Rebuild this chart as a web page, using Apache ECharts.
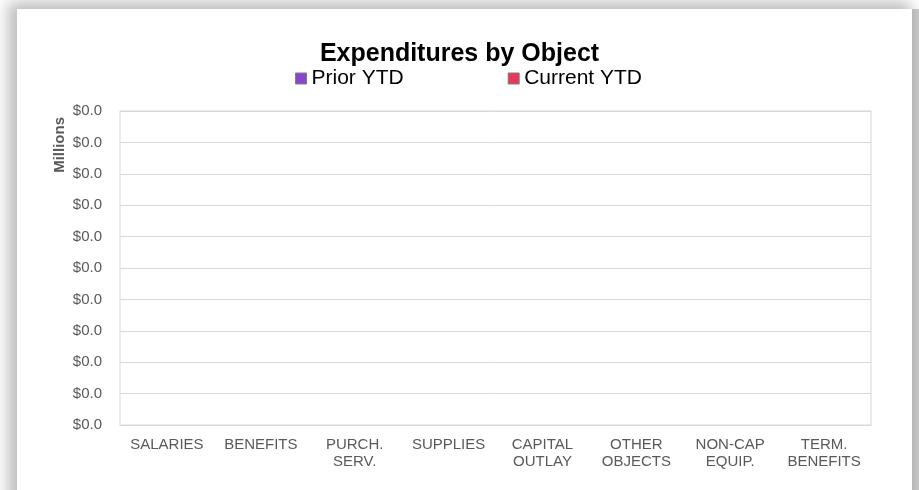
<!DOCTYPE html>
<html>
<head>
<meta charset="utf-8">
<title>Expenditures by Object</title>
<script src="https://cdn.jsdelivr.net/npm/echarts@6/dist/echarts.min.js"></script>
<style>
  html, body { margin: 0; padding: 0; background: #ffffff; }
  #wrap { position: relative; width: 919px; height: 490px; overflow: hidden; background: #ffffff; }
  /* the card that holds the chart, with its drop shadow */
  #card {
    position: absolute; left: 17px; top: 9px; width: 895px; height: 520px;
    background: #ffffff;
    box-shadow: -5px -3px 14px 4px rgba(0,0,0,0.26), 7px 0 0 0 #cdcdcd;
  }
  #chart { position: absolute; left: 0; top: 0; width: 919px; height: 490px; }
</style>
</head>
<body>
<div id="wrap">
  <div id="card"></div>
  <div id="chart"></div>
</div>
<script>
// Expenditure categories (line breaks as printed under the axis)
const categories = [
  'SALARIES', 'BENEFITS', 'PURCH.\nSERV.', 'SUPPLIES',
  'CAPITAL\nOUTLAY', 'OTHER\nOBJECTS', 'NON-CAP\nEQUIP.', 'TERM.\nBENEFITS'
];
// Year-to-date spending, in dollars
const priorYTD   = [0, 0, 0, 0, 0, 0, 0, 0];
const currentYTD = [0, 0, 0, 0, 0, 0, 0, 0];
// Value axis range (dollars); labels are shown in millions
const axisMin = 0;
const axisMax = 1;
const axisStep = 0.1;

const labelColor = '#595959';
const gridColor = '#d9d9d9';
const fontFamily = '"Liberation Sans", Arial, sans-serif';

const chart = echarts.init(document.getElementById('chart'), null, { renderer: 'canvas' });

chart.setOption({
  backgroundColor: 'transparent',
  animation: false,
  textStyle: { fontFamily: fontFamily },
  title: {
    text: 'Expenditures by Object',
    left: 'center',
    top: 37,
    textStyle: { fontSize: 25, fontWeight: 'bold', color: '#000000', fontFamily: fontFamily }
  },
  legend: {
    data: ['Prior YTD', 'Current YTD'],
    left: 295,
    top: 68,
    padding: 0,
    itemWidth: 11,
    itemHeight: 11,
    itemGap: 104,
    icon: 'rect',
    itemStyle: { borderColor: '#7f7f7f', borderWidth: 1 },
    textStyle: { fontSize: 21, color: '#000000', fontFamily: fontFamily }
  },
  grid: {
    left: 120,
    right: 48,
    top: 111,
    bottom: 65,
    show: true,
    borderColor: gridColor,
    borderWidth: 1,
    backgroundColor: '#ffffff',
    containLabel: false
  },
  xAxis: {
    type: 'category',
    data: categories,
    boundaryGap: true,
    axisLine: { show: true, lineStyle: { color: gridColor } },
    axisTick: { show: false },
    axisLabel: {
      color: labelColor,
      fontSize: 15,
      lineHeight: 17,
      margin: 11,
      interval: 0,
      fontFamily: fontFamily
    }
  },
  yAxis: {
    type: 'value',
    min: axisMin,
    max: axisMax,
    interval: axisStep,
    axisLine: { show: false },
    axisTick: { show: false },
    splitLine: { show: true, lineStyle: { color: gridColor, width: 1 } },
    axisLabel: {
      color: labelColor,
      fontSize: 15,
      margin: 18,
      fontFamily: fontFamily,
      formatter: function (v) { return '$' + (v / 1e6).toFixed(1); }
    }
  },
  graphic: [{
    type: 'text',
    left: 52,
    top: 117,
    rotation: Math.PI / 2,
    style: {
      text: 'Millions',
      fill: labelColor,
      font: 'bold 15px ' + fontFamily
    }
  }],
  series: [
    {
      name: 'Prior YTD',
      type: 'bar',
      data: priorYTD,
      barGap: '0%',
      itemStyle: { color: '#8b47c9', borderWidth: 0 }
    },
    {
      name: 'Current YTD',
      type: 'bar',
      data: currentYTD,
      itemStyle: { color: '#e8385a', borderWidth: 0 }
    }
  ]
});
</script>
</body>
</html>
